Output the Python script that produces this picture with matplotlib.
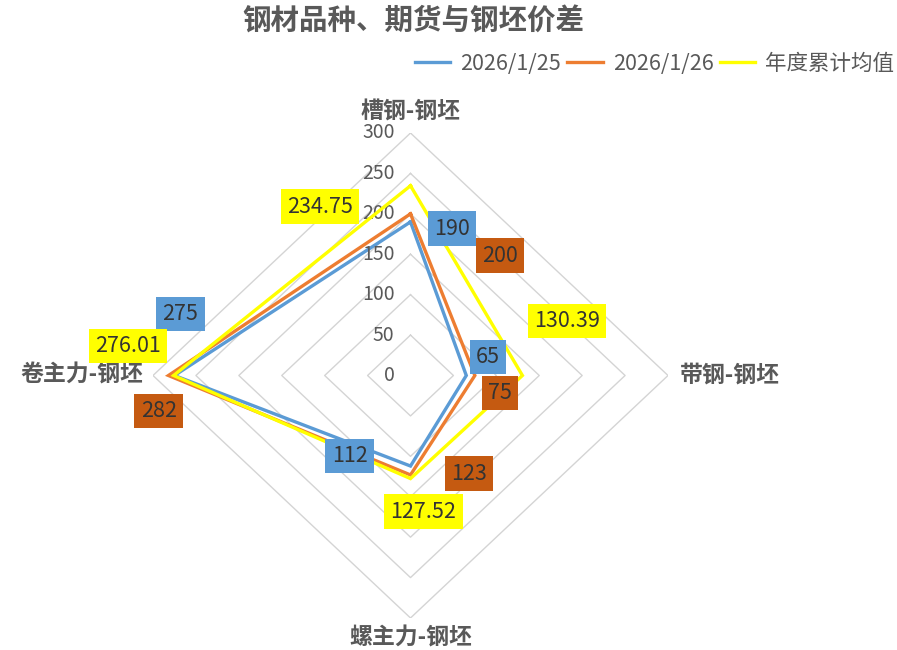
import numpy as np
import matplotlib
matplotlib.use("Agg")
import matplotlib.pyplot as plt
from matplotlib.lines import Line2D

plt.rcParams['font.family'] = ['Noto Sans CJK SC', 'DejaVu Sans']

# ---- data ----
title = "钢材品种、期货与钢坯价差"
categories = ["槽钢-钢坯", "带钢-钢坯", "螺主力-钢坯", "卷主力-钢坯"]
series_names = ["2026/1/25", "2026/1/26", "年度累计均值"]
s_0125 = [190, 65, 112, 275]
s_0126 = [200, 75, 123, 282]
s_avg = [234.75, 130.39, 127.52, 276.01]
r_ticks = [0, 50, 100, 150, 200, 250, 300]
r_tick_labels = ["0", "50", "100", "150", "200", "250", "300"]
label_texts = [["190", "65", "112", "275"],
               ["200", "75", "123", "282"],
               ["234.75", "130.39", "127.52", "276.01"]]

# ---- style ----
line_colors = ["#5B9BD5", "#ED7D31", "#FFFF00"]
box_colors = ["#5B9BD5", "#C55A11", "#FFFF00"]
grid_color = "#D4D4D4"
text_gray = "#595959"

# label offsets in pixels (dx, dy up)
offsets_px = [
    [(41.5, -7), (21.7, 18.5), (-61, 10), (6, 61.5)],
    [(89.5, -42), (25.1, -17.5), (58.5, 1), (-9.5, -35.5)],
    [(-90.5, -21), (44.6, 54.5), (13, -33), (-45.6, 29.5)],
]

W, H = 897, 650
fig = plt.figure(figsize=(W / 100, H / 100), dpi=100)
ax = fig.add_axes([153 / W, (H - 618) / H, 515 / W, 485 / H], projection='polar')
ax.set_aspect('auto')
ax.set_theta_zero_location('N')
ax.set_theta_direction(-1)
ax.set_ylim(0, 300)
ax.grid(False)
ax.set_xticks([])
ax.set_yticks([])
ax.spines['polar'].set_visible(False)
ax.patch.set_visible(False)

n = len(categories)
angles = np.arange(n) * 2 * np.pi / n
ang_c = np.append(angles, angles[0])

# diamond grid
for lv in r_ticks[1:]:
    ax.plot(ang_c, [lv] * (n + 1), color=grid_color, lw=1.0, zorder=1)

# series
all_series = [s_0125, s_0126, s_avg]
for i, s in enumerate(all_series):
    vals = np.append(s, s[0])
    ax.plot(ang_c, vals, color=line_colors[i], lw=2.4, zorder=3 + i,
            solid_joinstyle='miter')

# data labels
for i, s in enumerate(all_series):
    for j in range(n):
        dx, dy = offsets_px[i][j]
        ax.annotate(label_texts[i][j], xy=(angles[j], s[j]),
                    xytext=(dx * 0.72, dy * 0.72), textcoords='offset points',
                    ha='center', va='center', fontsize=15.5, color='#333333',
                    bbox=dict(boxstyle='square,pad=0.3', fc=box_colors[i], ec='none'),
                    zorder=10, annotation_clip=False)

# radial tick labels
for lv, lab in zip(r_ticks, r_tick_labels):
    ax.annotate(lab, xy=(0, lv), xytext=(-11.5, 0), textcoords='offset points',
                ha='right', va='center', fontsize=14, color=text_gray,
                annotation_clip=False)

# category labels
cat_off = [((0, 20.5), 'center', 'center'), ((12, 0), 'left', 'center'),
           ((0, -20), 'center', 'center'), ((-10, 0), 'right', 'center')]
for j, c in enumerate(categories):
    (dx, dy), ha, va = cat_off[j]
    ax.annotate(c, xy=(angles[j], 300), xytext=(dx * 0.72, dy * 0.72),
                textcoords='offset points', ha=ha, va=va, fontsize=16.5,
                fontweight='bold', color=text_gray, annotation_clip=False)

# title
fig.text(413 / W, 1 - 22 / H, title, ha='center', va='center', fontsize=20.5,
         fontweight='bold', color=text_gray)

# legend
handles = [Line2D([0], [0], color=line_colors[i], lw=2.4) for i in range(3)]
leg = fig.legend(handles, series_names, ncol=3, loc='center right',
                 bbox_to_anchor=(894 / W, 1 - 64 / H), frameon=False,
                 fontsize=15.5, handlelength=1.65, handletextpad=0.45,
                 columnspacing=0.3, borderpad=0, borderaxespad=0)
for t in leg.get_texts():
    t.set_color(text_gray)

fig.savefig("out.png", dpi=100)
